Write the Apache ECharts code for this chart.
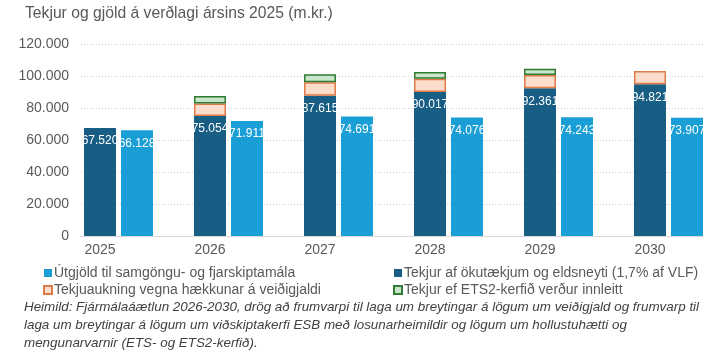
<!DOCTYPE html>
<html>
<head>
<meta charset="utf-8">
<script src="https://cdn.jsdelivr.net/npm/echarts@6/dist/echarts.min.js"></script>
<style>
  html, body { margin: 0; padding: 0; background: #fff; }
  #chart { width: 713px; height: 354px; }
</style>
</head>
<body>
<div id="chart"></div>
<script>
const years = ['2025', '2026', '2027', '2028', '2029', '2030'];
// m.kr.
const vehicleRevenue = [67520, 75054, 87615, 90017, 92361, 94821];
const fishingFeeIncrease = [null, 7700, 8500, 8300, 8300, 8300];
const ets2Revenue = [null, 4800, 5000, 4200, 3800, null];
const transportSpending = [66128, 71911, 74691, 74076, 74243, 73907];
const yTicks = [0, 20000, 40000, 60000, 80000, 100000, 120000];

const names = {
    spending: 'Útgjöld til samgöngu- og fjarskiptamála',
    vehicle: 'Tekjur af ökutækjum og eldsneyti (1,7% af VLF)',
    fishing: 'Tekjuaukning vegna hækkunar á veiðigjaldi',
    ets2: 'Tekjur ef ETS2-kerfið verður innleitt'
};

const FONT = '"Liberation Sans", Arial, sans-serif';
const GREY = '#595959';

function fmt(v) {
    return String(v).replace(/\B(?=(\d{3})+(?!\d))/g, '.');
}

const barLabel = {
    show: true,
    position: 'insideTop',
    distance: 7,
    color: '#fff',
    fontSize: 12,
    fontFamily: FONT,
    formatter: p => fmt(p.value)
};

const chart = echarts.init(document.getElementById('chart'));

const option = {
    animation: false,
    textStyle: { fontFamily: FONT },
    title: [
        {
            text: 'Tekjur og gjöld á verðlagi ársins 2025 (m.kr.)',
            left: 20, top: 1,
            textStyle: { fontSize: 15.7, fontWeight: 'normal', color: GREY, fontFamily: FONT }
        },
        {
            text: 'Heimild: Fjármálaáætlun 2026-2030, drög að frumvarpi til laga um breytingar á lögum um veiðigjald og frumvarp til\n' +
                  'laga um breytingar á lögum um viðskiptakerfi ESB með losunarheimildir og lögum um hollustuhætti og\n' +
                  'mengunarvarnir (ETS- og ETS2-kerfið).',
            left: 19, top: 293,
            textStyle: { fontSize: 13.4, fontWeight: 'normal', fontStyle: 'italic', color: '#404040',
                lineHeight: 18, fontFamily: FONT }
        }
    ],
    legend: [
        {
            left: 38, top: 261, orient: 'vertical',
            itemWidth: 8, itemHeight: 8, itemGap: 3,
            icon: 'rect',
            data: [names.spending, names.fishing],
            textStyle: { fontSize: 14, color: GREY, padding: [0, 0, 0, -3] }
        },
        {
            left: 388, top: 261, orient: 'vertical',
            itemWidth: 8, itemHeight: 8, itemGap: 3,
            icon: 'rect',
            data: [names.vehicle, names.ets2],
            textStyle: { fontSize: 14, color: GREY, padding: [0, 0, 0, -3] }
        }
    ],
    grid: [
        { left: 45, right: 8, top: 44, bottom: 118 },
        { left: 81, right: 10, top: 44, bottom: 118 }
    ],
    xAxis: [
        {
            type: 'category', gridIndex: 0, data: years,
            axisLine: { show: false }, axisTick: { show: false },
            axisLabel: { fontSize: 14, color: GREY, margin: 7 }
        },
        {
            type: 'category', gridIndex: 1, data: years,
            axisLine: { lineStyle: { color: '#d9d9d9' } },
            axisTick: { show: false }, axisLabel: { show: false }
        }
    ],
    yAxis: [
        {
            type: 'value', gridIndex: 0, min: 0, max: 120000, interval: 20000,
            show: false, splitLine: { show: false }
        },
        {
            type: 'value', gridIndex: 1, min: yTicks[0], max: yTicks[yTicks.length - 1], interval: 20000,
            axisLine: { show: false }, axisTick: { show: false },
            axisLabel: { fontSize: 14, color: GREY, margin: 12, formatter: v => fmt(v) },
            splitLine: { lineStyle: { color: '#d0d0d0', type: [1, 2] } }
        }
    ],
    series: [
        {
            // empty slot so the year label sits under the dark column
            name: 'spacer', type: 'bar', data: years.map(() => 0),
            barWidth: 32, barGap: '15.6%', silent: true,
            itemStyle: { color: 'transparent' }
        },
        {
            name: names.vehicle, type: 'bar', stack: 'rev', data: vehicleRevenue,
            barWidth: 32, barGap: '15.6%',
            itemStyle: { color: '#175d84' },
            label: barLabel
        },
        {
            name: names.fishing, type: 'bar', stack: 'rev', data: fishingFeeIncrease,
            barWidth: 32,
            itemStyle: { color: '#fcdccb', borderColor: '#e07b48', borderWidth: 1.5 }
        },
        {
            name: names.ets2, type: 'bar', stack: 'rev', data: ets2Revenue,
            barWidth: 32,
            itemStyle: { color: '#c9e5c8', borderColor: '#2f7a34', borderWidth: 1.5 }
        },
        {
            name: names.spending, type: 'bar', data: transportSpending,
            barWidth: 32, barGap: '15.6%',
            itemStyle: { color: '#1a9ed6' },
            label: barLabel
        }
    ]
};

chart.setOption(option);
window.addEventListener('resize', () => chart.resize());
</script>
</body>
</html>
